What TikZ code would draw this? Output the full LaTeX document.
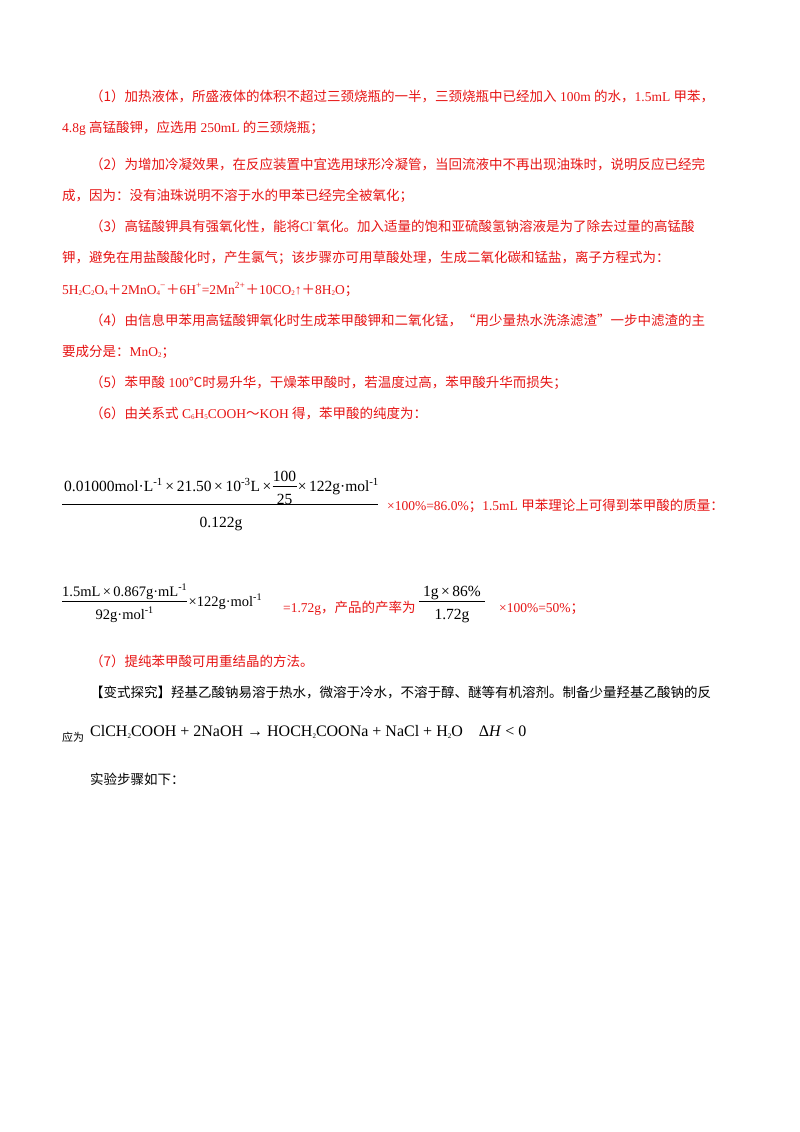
\documentclass[tikz,border=0pt]{standalone}
\usepackage{fontspec}
\usetikzlibrary{calc}
\setmainfont{Liberation Serif}
\newfontfamily\cjk{Noto Sans CJK SC}
\definecolor{ansred}{RGB}{230,20,20}
\newcommand{\sups}[1]{\textsuperscript{#1}}
\newcommand{\subs}[1]{\raisebox{-0.3ex}{\scriptsize #1}}
\begin{document}
\begin{tikzpicture}[x=1pt,y=-1pt,
  txt/.style={anchor=base west,inner sep=0pt,font=\fontsize{13.5}{16}\selectfont},
  red/.style={txt,text=ansred},
  blk/.style={txt,text=black},
  frm/.style={txt,text=black,font=\fontsize{15.5}{17}\selectfont},
  frs/.style={txt,text=black,font=\fontsize{14.5}{17}\selectfont}]
\useasboundingbox (0,0) rectangle (800,1132);
\node[red] (l1) at (90,101) {{\cjk （1）加热液体，所盛液体的体积不超过三颈烧瓶的一半，三颈烧瓶中已经加入} 100m {\cjk 的水，}1.5mL {\cjk 甲苯，}};
\node[red] (l2) at (62,132) {4.8g {\cjk 高锰酸钾，应选用} 250mL {\cjk 的三颈烧瓶；}};
\node[red] (l3) at (90,169) {\cjk （2）为增加冷凝效果，在反应装置中宜选用球形冷凝管，当回流液中不再出现油珠时，说明反应已经完};
\node[red] (l4) at (62,200) {\cjk 成，因为：没有油珠说明不溶于水的甲苯已经完全被氧化；};
\node[red] (l5) at (90,231) {{\cjk （3）高锰酸钾具有强氧化性，能将}Cl\sups{-}{\cjk 氧化。加入适量的饱和亚硫酸氢钠溶液是为了除去过量的高锰酸}};
\node[red] (l6) at (62,262) {\cjk 钾，避免在用盐酸酸化时，产生氯气；该步骤亦可用草酸处理，生成二氧化碳和锰盐，离子方程式为：};
\node[red] (l7) at (62,294) {5H\subs{2}C\subs{2}O\subs{4}{\cjk ＋}2MnO\subs{4}\sups{−}{\cjk ＋}6H\sups{+}=2Mn\sups{2+}{\cjk ＋}10CO\subs{2}↑{\cjk ＋}8H\subs{2}O{\cjk ；}};
\node[red] (l8) at (90,325) {{\cjk （4）由信息甲苯用高锰酸钾氧化时生成苯甲酸钾和二氧化锰，“用少量热水洗涤滤渣”一步中滤渣的主}};
\node[red] (l9) at (62,356) {{\cjk 要成分是：}MnO\subs{2}{\cjk ；}};
\node[red] (l10) at (90,387) {{\cjk （5）苯甲酸} 100{\cjk ℃时易升华，干燥苯甲酸时，若温度过高，苯甲酸升华而损失；}};
\node[red] (l11) at (90,418) {{\cjk （6）由关系式} C\subs{6}H\subs{5}COOH{\cjk ～}KOH {\cjk 得，苯甲酸的纯度为：}};
% fraction 1
\node[frm] (f1n) at (64,491) {0.01000mol·L\sups{-1}\,×\,21.50\,×\,10\sups{-3}L\,×};
\node[frm,anchor=base] (f1a) at ($(f1n.base east)+(13,-10)$) {100};
\node[frm,anchor=base] (f1b) at ($(f1n.base east)+(13,13)$) {25};
\draw[line width=0.4pt] ($(f1n.base east)+(1,-5)$) coordinate (f1s) -- ($(f1n.base east)+(25,-5)$) coordinate (f1e);
\node[frm] (f1m) at ($(f1n.base east)+(26,0)$) {×\,122g·mol\sups{-1}};
\coordinate (b1s) at (62,504);
\coordinate (b1e) at (378,504);
\draw[line width=0.5pt] (b1s) -- (b1e);
\node[frm,anchor=base] (f1d) at (221,527) {0.122g};
\node[red] (t1) at (387,510) {×100\%=86.0\%{\cjk ；}1.5mL {\cjk 甲苯理论上可得到苯甲酸的质量：}};
% fraction 2
\node[frs] (f2n) at (62,596) {1.5mL\,×\,0.867g·mL\sups{-1}};
\coordinate (b2s) at (62,601);
\coordinate (b2e) at (f2n.base east |- 0,601);
\draw[line width=0.5pt] (b2s) -- (b2e);
\node[frs,anchor=base] (f2d) at ($(b2s)!0.5!(b2e)+(0,18)$) {92g·mol\sups{-1}};
\node[frs] (f2m) at ($(b2e)+(1,5)$) {×122g·mol\sups{-1}};
\node[red] (t2) at (283,612) {=1.72g{\cjk ，产品的产率为}};
\node[frm,anchor=base] (f3n) at (452,596) {1g\,×\,86\%};
\coordinate (b3s) at (419,601);
\coordinate (b3e) at (485,601);
\draw[line width=0.5pt] (b3s) -- (b3e);
\node[frm,anchor=base] (f3d) at (452,619) {1.72g};
\node[red] (t3) at (499,612) {×100\%=50\%{\cjk ；}};
\node[red] (l12) at (90,666) {\cjk （7）提纯苯甲酸可用重结晶的方法。};
\node[blk] (l13) at (90,697) {\cjk 【变式探究】羟基乙酸钠易溶于热水，微溶于冷水，不溶于醇、醚等有机溶剂。制备少量羟基乙酸钠的反};
\node[blk,font=\cjk\fontsize{11}{13}\selectfont] (l14) at (62,741) {应为};
\node[blk,font=\fontsize{16}{18}\selectfont] (l15) at (90,736) {ClCH\subs{2}COOH + 2NaOH → HOCH\subs{2}COONa + NaCl + H\subs{2}O\quad Δ\textit{H} < 0};
\node[blk] (l16) at (90,784) {\cjk 实验步骤如下：};
\end{tikzpicture}
\end{document}
